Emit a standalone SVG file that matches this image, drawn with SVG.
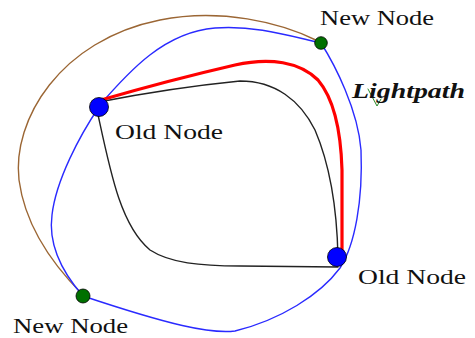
<svg xmlns="http://www.w3.org/2000/svg" width="475" height="338" viewBox="0 0 475 338">
<style>
.ln{fill:none;stroke-linejoin:round;stroke-linecap:round}
.brown{stroke:#9b6634;stroke-width:1.4}
.blue{stroke:#2a2aff;stroke-width:1.4}
.black{stroke:#222;stroke-width:1.4}
.red{stroke:#ff0000;stroke-width:3.2}
.old{fill:#0000ff;stroke:#000;stroke-width:0.8}
.new{fill:#007000;stroke:#000;stroke-width:0.8}
.lbl{font-family:"Liberation Serif","Times New Roman",serif;font-size:21px;fill:#111}
.lp{font-family:"Liberation Serif","Times New Roman",serif;font-size:21px;font-weight:bold;font-style:italic;fill:#111}
</style>
<rect width="475" height="338" fill="#fff"/>
<g id="connectors">
<path class="ln brown" d="M83,295 C50,262 25,225 19,180 C12,120 60,40 160,20 C220,8 280,22 318,41"/>
<path class="ln blue" d="M99,106 C130,70 165,32 215,28 C255,25 290,36 321,43 C335,65 358,110 361,150 C363,200 355,245 340,268 C320,295 280,320 235,331 C210,334 170,325 83,296 C62,272 48,245 52,215 C56,180 80,135 99,107"/>
<path class="ln black" d="M99,102 Q170,88 240,81 C275,81 300,100 315,130 C330,165 337,210 338,257"/>
<path class="ln black" d="M97,110 C110,170 120,225 150,250 C170,263 200,266 240,266 L338,267"/>
<path class="ln red" d="M101,100 Q170,80 235,65 C270,57 300,62 318,80 C335,100 341,135 342,170 L342,252"/>
<path class="ln" d="M368,89 L377,106 L381,99" stroke="#2a8a2a" stroke-width="1"/>
</g>
<g id="old1"><circle class="old" cx="99" cy="107" r="9.5"/><text class="lbl" x="115" y="139" textLength="108" lengthAdjust="spacingAndGlyphs">Old Node</text></g>
<g id="old2"><circle class="old" cx="337" cy="257" r="9.5"/><text class="lbl" x="358" y="284" textLength="108" lengthAdjust="spacingAndGlyphs">Old Node</text></g>
<g id="new1"><circle class="new" cx="321" cy="43" r="6.3"/><text class="lbl" x="320" y="25" textLength="114" lengthAdjust="spacingAndGlyphs">New Node</text></g>
<g id="new2"><circle class="new" cx="83" cy="296" r="7"/><text class="lbl" x="13" y="333" textLength="115" lengthAdjust="spacingAndGlyphs">New Node</text></g>
<g id="lightpath"><text class="lp" x="352" y="98" textLength="113" lengthAdjust="spacingAndGlyphs">Lightpath</text></g>
</svg>
